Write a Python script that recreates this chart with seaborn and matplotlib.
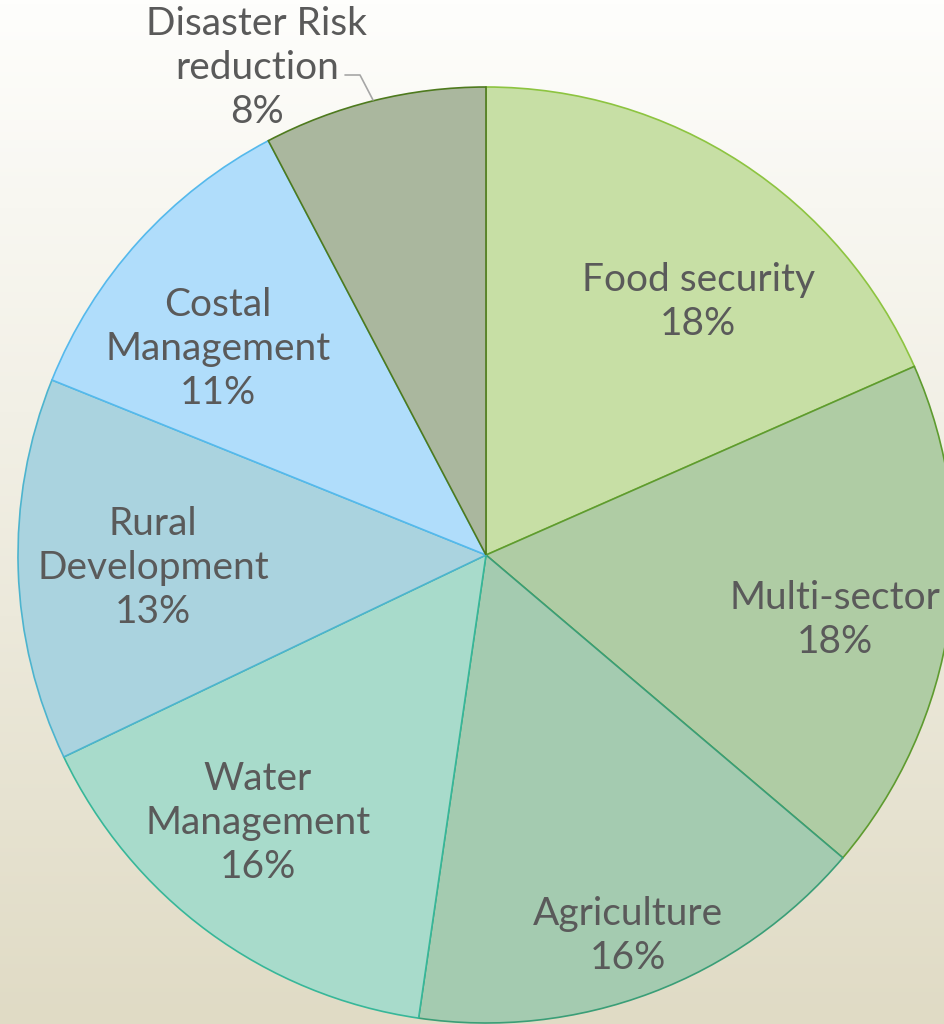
import numpy as np
import matplotlib
matplotlib.use("Agg")
import matplotlib.pyplot as plt
import seaborn as sns

# -- Data -----------------------------------------------------------------------
sectors = ["Food security", "Multi-sector", "Agriculture", "Water\nManagement",
           "Rural\nDevelopment", "Costal\nManagement", "Disaster Risk\nreduction"]
shares = [18.4, 17.8, 16.1, 15.6, 13.2, 11.2, 7.7]
pct_labels = ["18%", "18%", "16%", "16%", "13%", "11%", "8%"]

fills = ["#C7DFA5", "#AFCCA4", "#A4CBB0", "#A8DBCB", "#AAD3DF", "#B0DDFB", "#AAB79E"]
edges = ["#8DC440", "#5E9B2F", "#3A9E77", "#37B799", "#4DB4CE", "#55B9EC", "#4E7A1E"]

# label anchor points (pixels from top-left)
label_pos = [(698, 302), (835, 620), (628, 936), (258, 823),
             (153, 568), (218, 349), (257, 68)]

W, H = 945, 1024
CX, CY, R = 486, 555, 468

# -- Figure ---------------------------------------------------------------------
sns.set_theme(style="white")
plt.rcParams["font.family"] = ["Lato", "DejaVu Sans"]

fig = plt.figure(figsize=(W / 100, H / 100), dpi=100)

# background gradient
bg = fig.add_axes([0, 0, 1, 1])
grad = np.linspace(0, 1, 256).reshape(-1, 1)
cmap = matplotlib.colors.LinearSegmentedColormap.from_list("bg", ["#FEFEFC", "#E0DBC5"])
bg.imshow(grad, aspect="auto", cmap=cmap, extent=[0, 1, 0, 1], origin="upper")
bg.axis("off")

ax = fig.add_axes([0, 0, 1, 1])
ax.patch.set_alpha(0)

wedges, _ = ax.pie(shares, colors=fills, startangle=90, counterclock=False,
                   center=(CX, H - CY), radius=R, frame=True,
                   wedgeprops=dict(linewidth=1.2))
for w, ec in zip(wedges, edges):
    w.set_edgecolor(ec)
ax.set_xlim(0, W)
ax.set_ylim(0, H)
ax.set_aspect("equal")
ax.axis("off")

for name, pct, (x, y) in zip(sectors, pct_labels, label_pos):
    ax.text(x, H - y, f"{name}\n{pct}", ha="center", va="center",
            fontsize=28, color="#5A5A5A", linespacing=1.27)

# leader line for the outside label
ax.plot([345, 360, 373], [H - 75, H - 75, H - 100], color="#A6A6A6", lw=1.2)

fig.savefig("out.png", dpi=100)
